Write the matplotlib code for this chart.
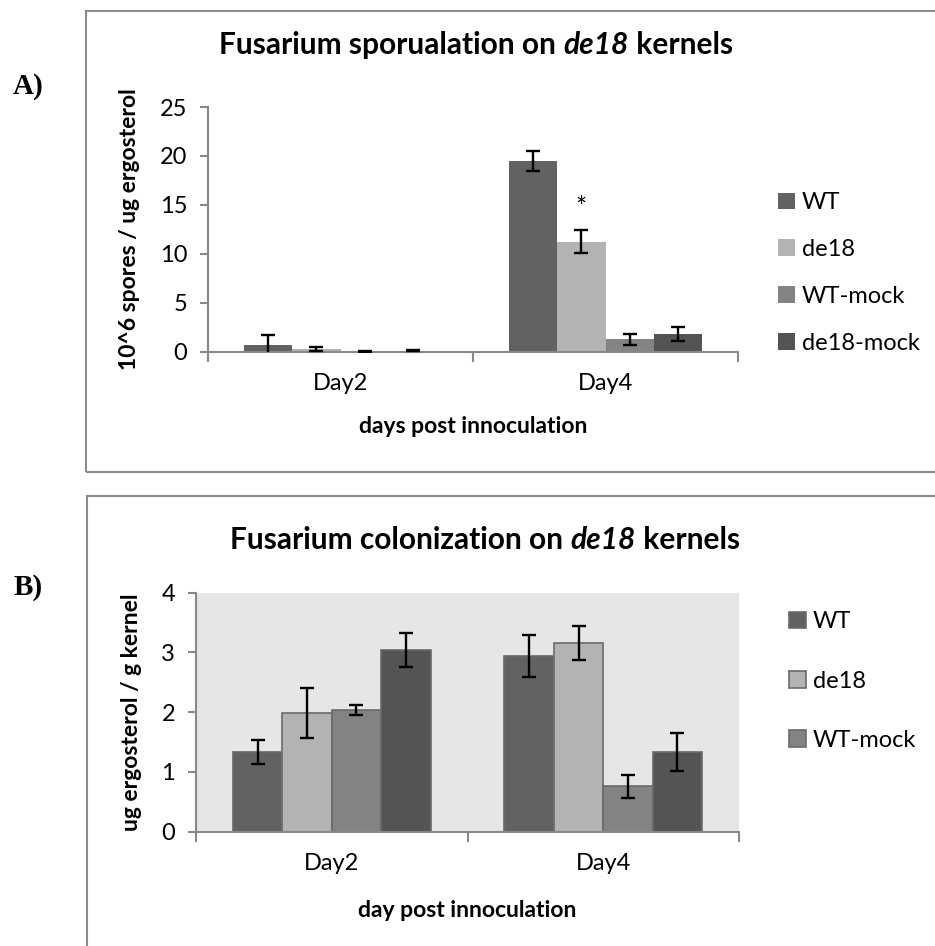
import matplotlib
matplotlib.use("Agg")
import matplotlib.pyplot as plt
import matplotlib.patches as mpatches
from matplotlib.offsetbox import TextArea, HPacker, AnchoredOffsetbox
import numpy as np

plt.rcParams['font.family'] = ['Lato', 'DejaVu Sans']

# data
days = ["Day2", "Day4"]
groups = ["WT", "de18", "WT-mock", "de18-mock"]
colors = ["#626262", "#b3b3b3", "#838383", "#545454"]

spores = {
    "WT": [0.65, 19.5],
    "de18": [0.3, 11.25],
    "WT-mock": [0.05, 1.25],
    "de18-mock": [0.1, 1.8],
}
spores_err = {
    "WT": [1.05, 1.0],
    "de18": [0.2, 1.15],
    "WT-mock": [0.05, 0.55],
    "de18-mock": [0.05, 0.7],
}

ergo = {
    "WT": [1.33, 2.94],
    "de18": [1.99, 3.16],
    "WT-mock": [2.04, 0.76],
    "de18-mock": [3.04, 1.33],
}
ergo_err = {
    "WT": [0.2, 0.35],
    "de18": [0.42, 0.28],
    "WT-mock": [0.08, 0.19],
    "de18-mock": [0.29, 0.32],
}

W, H = 935, 946
fig = plt.figure(figsize=(W / 100, H / 100), dpi=100)


def px_axes(x0, y0, x1, y1):
    # pixel box (top-left origin) -> figure axes
    return fig.add_axes([x0 / W, 1 - y1 / H, (x1 - x0) / W, (y1 - y0) / H])


def bar_panel(ax, values, errs, edge):
    x = np.arange(len(days))
    bw = 0.182
    for i, g in enumerate(groups):
        pos = x + (i - 1.5) * bw
        ax.bar(pos, values[g], width=bw, color=colors[i],
               edgecolor=edge if edge else colors[i], linewidth=1.2 if edge else 0,
               label=g, zorder=2)
        ax.errorbar(pos, values[g], yerr=errs[g], fmt='none', ecolor='black',
                    elinewidth=1.7, capsize=5, capthick=1.7, zorder=3)
    ax.set_xlim(-0.5, 1.5)
    ax.set_xticks(x)
    ax.set_xticklabels(days, fontsize=17)
    ax.set_xticks([-0.5, 0.5, 1.5], minor=True)
    ax.tick_params(axis='x', which='major', length=0, pad=15)
    ax.tick_params(axis='x', which='minor', length=7, width=1.5, color='#888888')
    ax.tick_params(axis='y', length=6, width=1.5, color='#888888', labelsize=17, pad=9)
    for s in ['top', 'right']:
        ax.spines[s].set_visible(False)
    for s in ['left', 'bottom']:
        ax.spines[s].set_color('#888888')
        ax.spines[s].set_linewidth(1.5)


def title_with_italic(before, ital, after, cx, cy):
    # bold title with a bold-italic word in the middle
    props = dict(fontsize=21.5, fontweight='bold', color='black')
    parts = [TextArea(before, textprops=props),
             TextArea(ital, textprops=dict(props, fontstyle='italic')),
             TextArea(after, textprops=props)]
    box = HPacker(children=parts, pad=0, sep=0, align='baseline')
    anch = AnchoredOffsetbox(loc='center', child=box, frameon=False, pad=0,
                             borderpad=0, bbox_to_anchor=(cx / W, 1 - cy / H),
                             bbox_transform=fig.transFigure)
    fig.add_artist(anch)


# panel frames
fig.add_artist(mpatches.Rectangle((86 / W, 1 - 472 / H), (W + 10 - 86) / W, (472 - 11) / H,
                                  transform=fig.transFigure, fill=False,
                                  edgecolor='#8c8c8c', linewidth=1.5))
fig.add_artist(mpatches.Rectangle((87 / W, -0.05), (W + 10 - 87) / W, 1.05 - 496 / H,
                                  transform=fig.transFigure, fill=False,
                                  edgecolor='#8c8c8c', linewidth=1.5))

fig.text(28 / W, 1 - 87 / H, "A)", fontsize=21, fontweight='bold',
         family='Liberation Serif', ha='center', va='center')
fig.text(28 / W, 1 - 587 / H, "B)", fontsize=21, fontweight='bold',
         family='Liberation Serif', ha='center', va='center')

# A) sporulation
axA = px_axes(208, 107, 738, 351.7)
bar_panel(axA, spores, spores_err, None)
axA.set_ylim(0, 25)
axA.set_yticks([0, 5, 10, 15, 20, 25])
axA.set_xlabel("days post innoculation", fontsize=16.5, fontweight='bold', labelpad=16)
axA.set_ylabel("10^6 spores / ug ergosterol", fontsize=16.5, fontweight='bold', labelpad=14)
axA.text(1 - 0.5 * 0.182, spores["de18"][1] + spores_err["de18"][1] + 2.2, "*",
         ha='center', va='center', fontsize=19)
title_with_italic("Fusarium sporualation on ", "de18", " kernels", 476, 45)
axA.legend(loc='center left', bbox_to_anchor=(778 / W, 1 - 273 / H),
           bbox_transform=fig.transFigure, frameon=False, fontsize=17,
           handlelength=0.7, handleheight=0.7, handletextpad=0.3,
           labelspacing=1.1, borderpad=0, borderaxespad=0)

# B) colonization
axB = px_axes(196, 592.7, 739, 831.7)
axB.set_facecolor('#e6e6e6')
bar_panel(axB, ergo, ergo_err, '#6a6a6a')
axB.set_ylim(0, 4)
axB.set_yticks([0, 1, 2, 3, 4])
axB.set_xlabel("day post innoculation", fontsize=16.5, fontweight='bold', labelpad=19)
axB.set_ylabel("ug ergosterol / g kernel", fontsize=16.5, fontweight='bold', labelpad=14)
title_with_italic("Fusarium colonization on ", "de18", " kernels", 485, 540)
hB, lB = axB.get_legend_handles_labels()
axB.legend(hB[:3], lB[:3], loc='center left', bbox_to_anchor=(789 / W, 1 - 681 / H),
           bbox_transform=fig.transFigure, frameon=False, fontsize=17,
           handlelength=0.7, handleheight=0.7, handletextpad=0.3,
           labelspacing=1.62, borderpad=0, borderaxespad=0)

fig.savefig("out.png", dpi=100)
